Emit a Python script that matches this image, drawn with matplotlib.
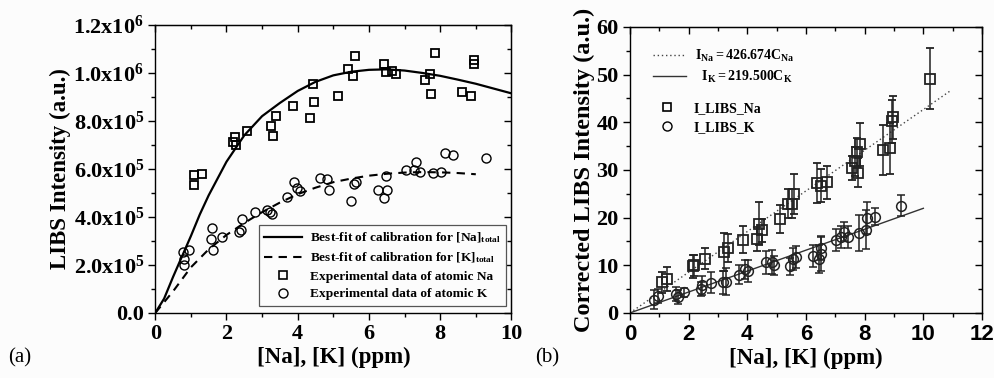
import matplotlib
matplotlib.use("Agg")
import matplotlib.pyplot as plt
from matplotlib.lines import Line2D
from matplotlib.ticker import MultipleLocator

plt.rcParams['font.family'] = 'Liberation Serif'
plt.rcParams['font.weight'] = 'bold'
plt.rcParams['axes.labelweight'] = 'bold'
plt.rcParams['mathtext.fontset'] = 'custom'
plt.rcParams['mathtext.rm'] = 'Liberation Serif:bold'
plt.rcParams['mathtext.bf'] = 'Liberation Serif:bold'
plt.rcParams['mathtext.it'] = 'Liberation Serif:bold'

# ---- panel (a): raw LIBS intensity
na_x = [1.08, 1.08, 1.30, 2.17, 2.23, 2.26, 2.57, 3.25, 3.31, 3.40, 3.86, 4.34, 4.42, 4.45,
        5.14, 5.42, 5.61, 5.56, 6.41, 6.49, 6.66, 6.75, 7.57, 7.71, 7.74, 7.86, 8.61, 8.86,
        8.96, 8.96]
na_y = [0.576, 0.532, 0.581, 0.711, 0.733, 0.699, 0.760, 0.781, 0.739, 0.819, 0.861, 0.811,
        0.956, 0.879, 0.906, 1.018, 1.069, 0.989, 1.038, 1.003, 1.007, 0.997, 0.969, 0.997,
        0.913, 1.083, 0.919, 0.906, 1.053, 1.038]
k_x = [0.79, 0.81, 0.82, 0.95, 1.60, 1.56, 1.63, 1.87, 2.36, 2.41, 2.45, 2.79, 3.14, 3.23,
       3.28, 3.71, 3.91, 3.98, 4.06, 4.63, 4.81, 4.88, 5.49, 5.59, 5.65, 6.25, 6.41, 6.52,
       6.49, 7.04, 7.26, 7.31, 7.42, 7.80, 8.01, 8.14, 8.35, 9.29]
k_y = [0.254, 0.225, 0.200, 0.264, 0.353, 0.308, 0.264, 0.317, 0.338, 0.344, 0.393, 0.419,
       0.428, 0.422, 0.414, 0.482, 0.544, 0.519, 0.507, 0.563, 0.558, 0.512, 0.465, 0.539,
       0.547, 0.511, 0.479, 0.514, 0.571, 0.597, 0.597, 0.628, 0.588, 0.583, 0.588, 0.667,
       0.660, 0.646]

na_fit_x = [0, 0.25, 0.5, 0.75, 1.0, 1.25, 1.5, 2.0, 2.5, 3.0, 3.5, 4.0, 4.5, 5.0, 5.5, 6.0,
            6.5, 7.0, 7.5, 8.0, 8.5, 9.0, 9.5, 10.0]
na_fit_y = [0, 0.06, 0.15, 0.235, 0.32, 0.41, 0.49, 0.63, 0.74, 0.82, 0.875, 0.925, 0.963,
            0.99, 1.005, 1.013, 1.015, 1.01, 1.0, 0.988, 0.972, 0.955, 0.935, 0.915]
k_fit_x = [0, 0.5, 1.0, 1.5, 2.0, 2.5, 3.0, 3.5, 4.0, 4.5, 5.0, 5.5, 6.0, 6.5, 7.0, 7.5,
           8.0, 8.5, 9.0]
k_fit_y = [0, 0.09, 0.19, 0.265, 0.325, 0.375, 0.42, 0.46, 0.495, 0.522, 0.545, 0.56,
           0.572, 0.58, 0.585, 0.587, 0.586, 0.583, 0.578]

left_yticks = [0, 0.2, 0.4, 0.6, 0.8, 1.0, 1.2]
left_yticklabels = ['0.0', r'$\mathbf{2.0x10^{5}}$', r'$\mathbf{4.0x10^{5}}$',
                    r'$\mathbf{6.0x10^{5}}$', r'$\mathbf{8.0x10^{5}}$',
                    r'$\mathbf{1.0x10^{6}}$', r'$\mathbf{1.2x10^{6}}$']

# ---- panel (b): corrected LIBS intensity
cna_x = [1.10, 1.27, 2.16, 2.20, 2.57, 3.20, 3.36, 3.85, 4.32, 4.41, 4.51, 5.13, 5.39, 5.52,
         5.60, 6.39, 6.51, 6.73, 7.57, 7.66, 7.74, 7.76, 7.84, 8.64, 8.86, 8.93, 8.98, 10.24]
cna_y = [6.4, 7.1, 9.8, 10.0, 11.4, 12.7, 13.6, 15.4, 15.5, 18.7, 17.3, 19.7, 22.9, 22.9,
         24.9, 27.3, 26.7, 27.4, 30.4, 31.8, 33.7, 29.4, 35.4, 34.2, 34.5, 40.2, 41.0, 49.1]
cna_err = [2.2, 2.5, 2.4, 2.2, 2.2, 4.0, 3.0, 2.8, 2.5, 4.5, 2.5, 3.0, 3.0, 3.0, 4.2, 4.2,
           3.5, 3.5, 2.5, 3.0, 3.0, 3.0, 4.5, 5.3, 5.4, 4.5, 4.5, 6.4]
ck_x = [0.82, 0.97, 1.57, 1.64, 1.84, 2.42, 2.47, 2.78, 3.16, 3.26, 3.72, 3.92, 4.03, 4.63,
        4.83, 4.91, 5.45, 5.57, 5.66, 6.25, 6.45, 6.50, 6.52, 7.02, 7.20, 7.31, 7.43, 7.81,
        8.03, 8.09, 8.34, 9.25]
ck_y = [2.8, 3.5, 4.0, 3.3, 4.3, 5.1, 5.8, 6.3, 6.4, 6.6, 8.0, 9.2, 8.8, 10.6, 10.7, 10.0,
        9.8, 11.4, 11.7, 12.0, 11.3, 13.6, 12.4, 15.4, 15.9, 17.0, 15.9, 16.8, 17.5, 19.9,
        20.2, 22.5]
ck_err = [2.0, 1.5, 1.5, 1.5, 1.0, 1.5, 2.0, 2.2, 2.5, 2.8, 2.0, 2.0, 2.3, 2.5, 2.5, 2.0,
          1.8, 2.3, 2.3, 2.3, 3.0, 2.5, 3.5, 2.3, 2.3, 2.0, 2.3, 3.8, 4.0, 3.3, 1.8, 2.2]
cna_fit_x = [0, 10.9]
cna_fit_y = [0, 46.5]
ck_fit_x = [0, 10.0]
ck_fit_y = [0, 21.95]

bg = '#fcfcfc'
fig = plt.figure(figsize=(9.95, 3.78), dpi=100, facecolor=bg)
ax1 = fig.add_axes([0.156, 0.172, 0.358, 0.762], facecolor=bg)
ax2 = fig.add_axes([0.633, 0.172, 0.354, 0.757], facecolor=bg)

tick_fs = 16

# ---------- (a)
ax1.plot(na_fit_x, na_fit_y, color='black', lw=1.6)
ax1.plot(k_fit_x, k_fit_y, color='black', lw=1.5, ls=(0, (4, 3)))
ax1.plot(na_x, na_y, 's', ms=6, mfc='none', mec='black', mew=1.3)
ax1.plot(k_x, k_y, 'o', ms=6.5, mfc='none', mec='black', mew=1.0)
ax1.set_xlim(0, 10)
ax1.set_ylim(0, 1.2)
ax1.xaxis.set_major_locator(MultipleLocator(2))
ax1.xaxis.set_minor_locator(MultipleLocator(1))
ax1.set_yticks(left_yticks)
ax1.set_yticklabels(left_yticklabels)
ax1.yaxis.set_minor_locator(MultipleLocator(0.1))
ax1.set_xlabel('[Na], [K] (ppm)', fontsize=16.5, labelpad=2)
ax1.set_ylabel('LIBS Intensity (a.u.)', fontsize=16.5, labelpad=2)

handles = [Line2D([], [], color='black', lw=1.6),
           Line2D([], [], color='black', lw=1.5, ls=(0, (4, 3))),
           Line2D([], [], ls='none', marker='s', ms=6, mfc='none', mec='black', mew=1.2),
           Line2D([], [], ls='none', marker='o', ms=6.5, mfc='none', mec='black', mew=1.0)]
labels = [r'Best-fit of calibration for [Na]$_{\mathbf{total}}$',
          r'Best-fit of calibration for [K]$_{\mathbf{total}}$',
          'Experimental data of atomic Na',
          'Experimental data of atomic K']
leg = ax1.legend(handles, labels, loc='lower right', bbox_to_anchor=(0.985, 0.025),
                 borderaxespad=0, fancybox=False, edgecolor='#555555', framealpha=1,
                 facecolor=bg, prop={'size': 9.6, 'weight': 'bold'}, handlelength=2.8,
                 labelspacing=0.4, borderpad=0.4, handletextpad=0.6)
leg.get_frame().set_linewidth(0.9)

# ---------- (b)
ax2.plot(cna_fit_x, cna_fit_y, color='#444444', lw=1.0, ls=(0, (1, 2)))
ax2.plot(ck_fit_x, ck_fit_y, color='#333333', lw=1.0)
ax2.errorbar(cna_x, cna_y, yerr=cna_err, fmt='s', ms=6.5, mfc='none', mec='#222222',
             mew=1.3, ecolor='#222222', elinewidth=1.1, capsize=3, capthick=1.1)
ax2.errorbar(ck_x, ck_y, yerr=ck_err, fmt='o', ms=7, mfc='none', mec='#222222',
             mew=1.1, ecolor='#222222', elinewidth=1.1, capsize=3, capthick=1.1)
ax2.set_xlim(0, 12)
ax2.set_ylim(0, 60)
ax2.xaxis.set_major_locator(MultipleLocator(2))
ax2.xaxis.set_minor_locator(MultipleLocator(1))
ax2.yaxis.set_major_locator(MultipleLocator(10))
ax2.yaxis.set_minor_locator(MultipleLocator(5))
ax2.set_xlabel('[Na], [K] (ppm)', fontsize=16.5, labelpad=2)
ax2.set_ylabel('Corrected LIBS Intensity (a.u.)', fontsize=17.5, labelpad=1)
for lab in ax2.get_xticklabels():
    lab.set_fontfamily('Liberation Sans')

fit_handles = [Line2D([], [], color='#444444', lw=1.0, ls=(0, (1, 2))),
               Line2D([], [], color='#333333', lw=1.0)]
fit_labels = [r'$\mathbf{I_{Na} = 426.674C_{Na}}$',
              r'  $\mathbf{I_{K} = 219.500C_{K}}$']
leg1 = ax2.legend(fit_handles, fit_labels, loc='upper left', bbox_to_anchor=(0.03, 0.97),
                  frameon=False, prop={'size': 10}, handlelength=2.4,
                  labelspacing=0.35, handletextpad=0.6)
ax2.add_artist(leg1)
pt_handles = [Line2D([], [], ls='none', marker='s', ms=6, mfc='none', mec='black', mew=1.2),
              Line2D([], [], ls='none', marker='o', ms=6.5, mfc='none', mec='black', mew=1.0)]
ax2.legend(pt_handles, ['I_LIBS_Na', 'I_LIBS_K'], loc='upper left',
           bbox_to_anchor=(0.03, 0.78), frameon=False, prop={'size': 10, 'weight': 'bold'},
           labelspacing=0.4, handletextpad=0.9)

for ax in (ax1, ax2):
    ax.tick_params(which='both', direction='out', labelsize=tick_fs, width=1.0, pad=3)
    ax.tick_params(which='major', length=5)
    ax.tick_params(which='minor', length=3)
    for s in ax.spines.values():
        s.set_linewidth(1.0)
    sx = ax.secondary_xaxis('top')
    sx.set_xticks(ax.get_xticks())
    sx.xaxis.set_minor_locator(ax.xaxis.get_minor_locator())
    sx.tick_params(which='both', direction='in', labeltop=False, width=1.0)
    sx.tick_params(which='major', length=5)
    sx.tick_params(which='minor', length=3)
    sy = ax.secondary_yaxis('right')
    sy.set_yticks(ax.get_yticks())
    sy.yaxis.set_minor_locator(ax.yaxis.get_minor_locator())
    sy.tick_params(which='both', direction='in', labelright=False, width=1.0)
    sy.tick_params(which='major', length=5)
    sy.tick_params(which='minor', length=3)

fig.text(0.008, 0.04, '(a)', fontsize=15, fontweight='normal')
fig.text(0.538, 0.04, '(b)', fontsize=15, fontweight='normal')

fig.savefig('out.png', dpi=100, facecolor=bg)
